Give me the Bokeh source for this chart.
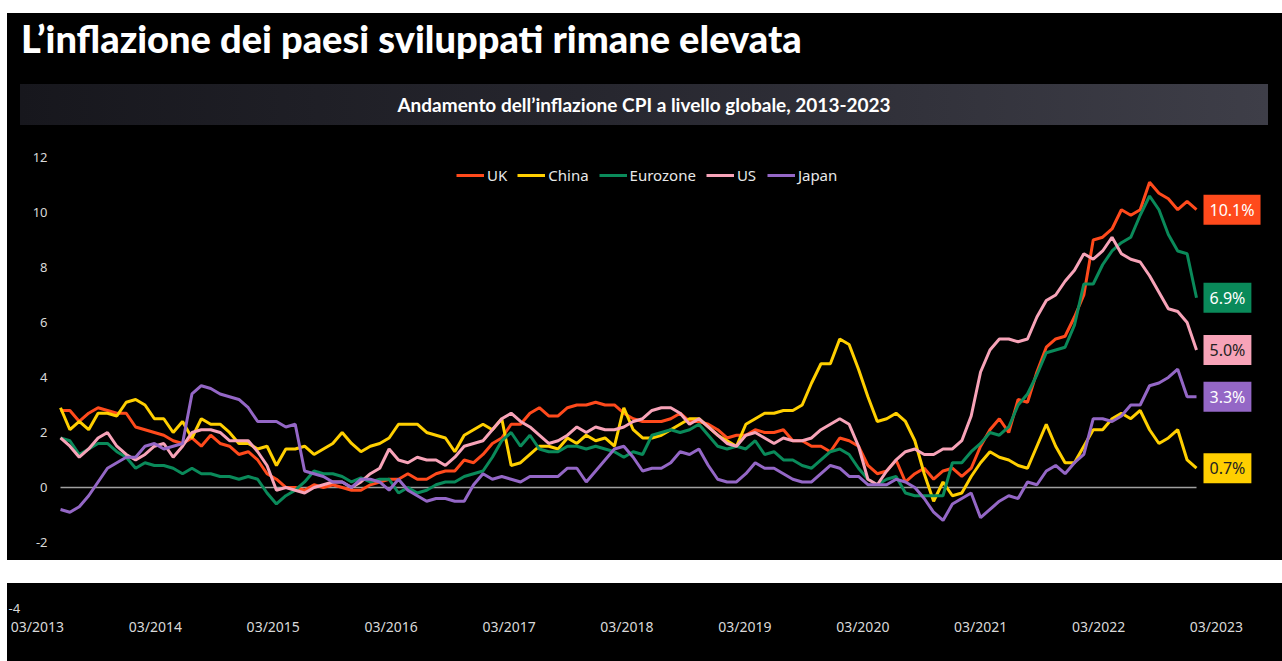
from bokeh.plotting import figure
from bokeh.models import Range1d, Label, FixedTicker, Legend, LegendItem, Spacer, Div
from bokeh.layouts import column, row
from bokeh.embed import file_html
from bokeh.resources import INLINE
from bokeh.core.properties import value

# ---------------- data (monthly, Feb 2013 .. Mar 2023) ----------------
months = []
for yy in range(2013, 2024):
    for mm in range(1, 13):
        if (yy == 2013 and mm < 2) or (yy == 2023 and mm > 3):
            continue
        months.append(f"{yy}-{mm:02d}")

uk = [2.8, 2.8, 2.4, 2.7, 2.9, 2.8, 2.7, 2.7, 2.2, 2.1, 2.0,
      1.9, 1.7, 1.6, 1.8, 1.5, 1.9, 1.6, 1.5, 1.2, 1.3, 1.0, 0.5,
      0.3, 0.0, 0.0, -0.1, 0.1, 0.0, 0.1, 0.0, -0.1, -0.1, 0.1, 0.2,
      0.3, 0.3, 0.5, 0.3, 0.3, 0.5, 0.6, 0.6, 1.0, 0.9, 1.2, 1.6,
      1.8, 2.3, 2.3, 2.7, 2.9, 2.6, 2.6, 2.9, 3.0, 3.0, 3.1, 3.0,
      3.0, 2.7, 2.5, 2.4, 2.4, 2.4, 2.5, 2.7, 2.4, 2.4, 2.3, 2.1,
      1.8, 1.9, 1.9, 2.1, 2.0, 2.0, 2.1, 1.7, 1.7, 1.5, 1.5, 1.3,
      1.8, 1.7, 1.5, 0.8, 0.5, 0.6, 1.0, 0.2, 0.5, 0.7, 0.3, 0.6,
      0.7, 0.4, 0.7, 1.5, 2.1, 2.5, 2.0, 3.2, 3.1, 4.2, 5.1, 5.4,
      5.5, 6.2, 7.0, 9.0, 9.1, 9.4, 10.1, 9.9, 10.1, 11.1, 10.7, 10.5,
      10.1, 10.4, 10.1]

china = [2.9, 2.1, 2.4, 2.1, 2.7, 2.7, 2.6, 3.1, 3.2, 3.0, 2.5,
         2.5, 2.0, 2.4, 1.8, 2.5, 2.3, 2.3, 2.0, 1.6, 1.6, 1.4, 1.5,
         0.8, 1.4, 1.4, 1.5, 1.2, 1.4, 1.6, 2.0, 1.6, 1.3, 1.5, 1.6,
         1.8, 2.3, 2.3, 2.3, 2.0, 1.9, 1.8, 1.3, 1.9, 2.1, 2.3, 2.1,
         2.5, 0.8, 0.9, 1.2, 1.5, 1.5, 1.4, 1.8, 1.6, 1.9, 1.7, 1.8,
         1.5, 2.9, 2.1, 1.8, 1.8, 1.9, 2.1, 2.3, 2.5, 2.5, 2.2, 1.9,
         1.7, 1.5, 2.3, 2.5, 2.7, 2.7, 2.8, 2.8, 3.0, 3.8, 4.5, 4.5,
         5.4, 5.2, 4.3, 3.3, 2.4, 2.5, 2.7, 2.4, 1.7, 0.5, -0.5, 0.2,
         -0.3, -0.2, 0.4, 0.9, 1.3, 1.1, 1.0, 0.8, 0.7, 1.5, 2.3, 1.5,
         0.9, 0.9, 1.5, 2.1, 2.1, 2.5, 2.7, 2.5, 2.8, 2.1, 1.6, 1.8,
         2.1, 1.0, 0.7]

eurozone = [1.8, 1.7, 1.2, 1.4, 1.6, 1.6, 1.3, 1.1, 0.7, 0.9, 0.8,
            0.8, 0.7, 0.5, 0.7, 0.5, 0.5, 0.4, 0.4, 0.3, 0.4, 0.3, -0.2,
            -0.6, -0.3, -0.1, 0.2, 0.6, 0.5, 0.5, 0.4, 0.2, 0.35, 0.2, 0.3,
            0.3, -0.2, 0.0, -0.2, -0.1, 0.1, 0.2, 0.2, 0.4, 0.5, 0.6, 1.1,
            1.7, 2.0, 1.5, 1.9, 1.4, 1.3, 1.3, 1.5, 1.5, 1.4, 1.5, 1.4,
            1.3, 1.1, 1.3, 1.2, 1.9, 2.0, 2.1, 2.0, 2.1, 2.3, 1.9, 1.5,
            1.4, 1.5, 1.4, 1.7, 1.2, 1.3, 1.0, 1.0, 0.8, 0.7, 1.0, 1.3,
            1.4, 1.2, 0.7, 0.3, 0.1, 0.3, 0.4, -0.2, -0.3, -0.3, -0.3, -0.3,
            0.9, 0.9, 1.3, 1.6, 2.0, 1.9, 2.2, 3.0, 3.4, 4.1, 4.9, 5.0,
            5.1, 5.9, 7.4, 7.4, 8.1, 8.6, 8.9, 9.1, 9.9, 10.6, 10.1, 9.2,
            8.6, 8.5, 6.9]

us = [1.8, 1.5, 1.1, 1.4, 1.8, 2.0, 1.5, 1.2, 1.0, 1.2, 1.5,
      1.6, 1.1, 1.5, 2.0, 2.1, 2.1, 2.0, 1.7, 1.7, 1.7, 1.3, 0.8,
      -0.1, 0.0, -0.1, -0.2, 0.0, 0.1, 0.2, 0.2, 0.0, 0.2, 0.5, 0.7,
      1.4, 1.0, 0.9, 1.1, 1.0, 1.0, 0.8, 1.1, 1.5, 1.6, 1.7, 2.1,
      2.5, 2.7, 2.4, 2.2, 1.9, 1.6, 1.7, 1.9, 2.2, 2.0, 2.2, 2.1,
      2.1, 2.2, 2.4, 2.5, 2.8, 2.9, 2.9, 2.7, 2.3, 2.5, 2.2, 1.9,
      1.6, 1.5, 1.9, 2.0, 1.8, 1.6, 1.8, 1.7, 1.7, 1.8, 2.1, 2.3,
      2.5, 2.3, 1.5, 0.3, 0.1, 0.6, 1.0, 1.3, 1.4, 1.2, 1.2, 1.4,
      1.4, 1.7, 2.6, 4.2, 5.0, 5.4, 5.4, 5.3, 5.4, 6.2, 6.8, 7.0,
      7.5, 7.9, 8.5, 8.3, 8.6, 9.1, 8.5, 8.3, 8.2, 7.7, 7.1, 6.5,
      6.4, 6.0, 5.0]

japan = [-0.8, -0.9, -0.7, -0.3, 0.2, 0.7, 0.9, 1.1, 1.1, 1.5, 1.6,
         1.4, 1.5, 1.6, 3.4, 3.7, 3.6, 3.4, 3.3, 3.2, 2.9, 2.4, 2.4,
         2.4, 2.2, 2.3, 0.6, 0.5, 0.4, 0.2, 0.2, 0.0, 0.3, 0.3, 0.2,
         -0.1, 0.3, -0.1, -0.3, -0.5, -0.4, -0.4, -0.5, -0.5, 0.1, 0.5, 0.3,
         0.4, 0.3, 0.2, 0.4, 0.4, 0.4, 0.4, 0.7, 0.7, 0.2, 0.6, 1.0,
         1.4, 1.5, 1.1, 0.6, 0.7, 0.7, 0.9, 1.3, 1.2, 1.4, 0.8, 0.3,
         0.2, 0.2, 0.5, 0.9, 0.7, 0.7, 0.5, 0.3, 0.2, 0.2, 0.5, 0.8,
         0.7, 0.4, 0.4, 0.1, 0.1, 0.1, 0.3, 0.2, 0.0, -0.4, -0.9, -1.2,
         -0.6, -0.4, -0.2, -1.1, -0.8, -0.5, -0.3, -0.4, 0.2, 0.1, 0.6, 0.8,
         0.5, 0.9, 1.2, 2.5, 2.5, 2.4, 2.6, 3.0, 3.0, 3.7, 3.8, 4.0,
         4.3, 3.3, 3.3]

series_names = ["UK", "China", "Eurozone", "US", "Japan"]
series_values = [uk, china, eurozone, us, japan]
series_colors = ["#ff4a1c", "#ffcf00", "#0a8a5a", "#f7a3b8", "#9467c6"]
end_text_colors = ["white", "#222222", "white", "#222222", "white"]

y_ticks = [-2, 0, 2, 4, 6, 8, 10, 12]
y_tick_labels = ["-2", "0", "2", "4", "6", "8", "10", "12"]
x_tick_years = list(range(2013, 2024))
x_tick_labels = [f"03/{y}" for y in x_tick_years]

TITLE = "L\u2019inflazione dei paesi sviluppati rimane elevata"
SUBTITLE = "Andamento dell\u2019inflazione CPI a livello globale, 2013-2023"

# ---------------- layout sizes ----------------
W = 1275
H0, H1, HGAP, H2 = 124, 423, 23, 78
BLACK = {"background-color": "black"}

# ---------------- header (title + gradient band) ----------------
header_html = (
    f'<div style="position:relative;width:{W}px;height:{H0}px;background:#000;overflow:hidden;">'
    f'<div style="position:absolute;left:14px;top:2px;line-height:46px;white-space:nowrap;'
    f'font-family:Lato;font-weight:900;font-size:38px;color:#fff;">{TITLE}</div>'
    f'<div style="position:absolute;left:13px;top:71px;width:1248px;height:41px;'
    f'background:linear-gradient(90deg,#17171d 0%,#26262e 45%,#3e3e48 100%);'
    f'display:flex;align-items:center;justify-content:center;'
    f'font-family:Lato;font-weight:700;font-size:19px;color:#fff;white-space:nowrap;">{SUBTITLE}</div>'
    f'</div>'
)
header = Div(text=header_html, width=W, height=H0, margin=0, styles=BLACK)

# ---------------- main chart ----------------
x = list(range(len(months)))
p1 = figure(width=W, height=H1, x_range=Range1d(-0.32, 130.16),
            y_range=Range1d(-2.655, 12.727),
            output_backend="svg", toolbar_location=None, x_axis_location=None,
            min_border_left=50, min_border_right=0, min_border_top=0, min_border_bottom=0,
            background_fill_color="black", border_fill_color="black",
            outline_line_color=None, frame_align=False, styles=BLACK)
p1.grid.visible = False
ax = p1.yaxis[0]
ax.ticker = FixedTicker(ticks=y_ticks)
ax.major_label_overrides = dict(zip(y_ticks, y_tick_labels))
ax.axis_line_color = None
ax.major_tick_line_color = None
ax.minor_tick_line_color = None
ax.major_label_standoff = 4
ax.major_label_text_color = "#d9d9d9"
ax.major_label_text_font = "Noto Sans"
ax.major_label_text_font_size = "13px"

p1.line([x[0], x[-1]], [0, 0], line_color="#a0a0a0", line_width=1.5)

items = []
for name, ys, col in zip(series_names, series_values, series_colors):
    r = p1.line(x, ys, line_color=col, line_width=3)
    items.append(LegendItem(label=name, renderers=[r]))

legend = Legend(items=items, orientation="horizontal", location=(399, 375),
                padding=0, margin=0, spacing=10, glyph_width=28, glyph_height=20,
                label_height=20, label_standoff=3, background_fill_alpha=0,
                border_line_color=None, label_text_color="#e8e8e8",
                label_text_font="Noto Sans", label_text_font_size="15px")
p1.add_layout(legend)

for ys, col, tc in zip(series_values, series_colors, end_text_colors):
    p1.add_layout(Label(x=x[-1], y=ys[-1], x_offset=7, text=f"{ys[-1]:.1f}%",
                        text_baseline="middle", text_align="left",
                        background_fill_color=col, text_color=tc,
                        text_font="Noto Sans", text_font_size="16px",
                        padding=(6, 4)))

# ---------------- bottom axis strip ----------------
x2_start, x2_end = 2012.746, 2023.56
p2 = figure(width=W, height=H2, x_range=Range1d(x2_start, x2_end),
            y_range=Range1d(H2, 0),
            output_backend="svg", toolbar_location=None,
            x_axis_location=None, y_axis_location=None, min_border=0,
            background_fill_color="black", border_fill_color="black",
            outline_line_color=None, frame_align=False, styles=BLACK)
p2.grid.visible = False
p2.text(x=x_tick_years, y=[43] * len(x_tick_years), text=x_tick_labels,
        text_align="center", text_baseline="middle",
        text_font=value("Noto Sans"), text_font_size="14px", text_color="#d9d9d9")
p2.text(x=[x2_start], y=[25], x_offset=1, text=["-4"], text_align="left",
        text_baseline="middle",
        text_font=value("Noto Sans"), text_font_size="13px", text_color="#d9d9d9")

layout = row(Spacer(width=7),
             column(Spacer(height=13), header, p1, Spacer(height=HGAP), p2, spacing=0),
             spacing=0)

open("out.html", "w").write(file_html(layout, INLINE))
